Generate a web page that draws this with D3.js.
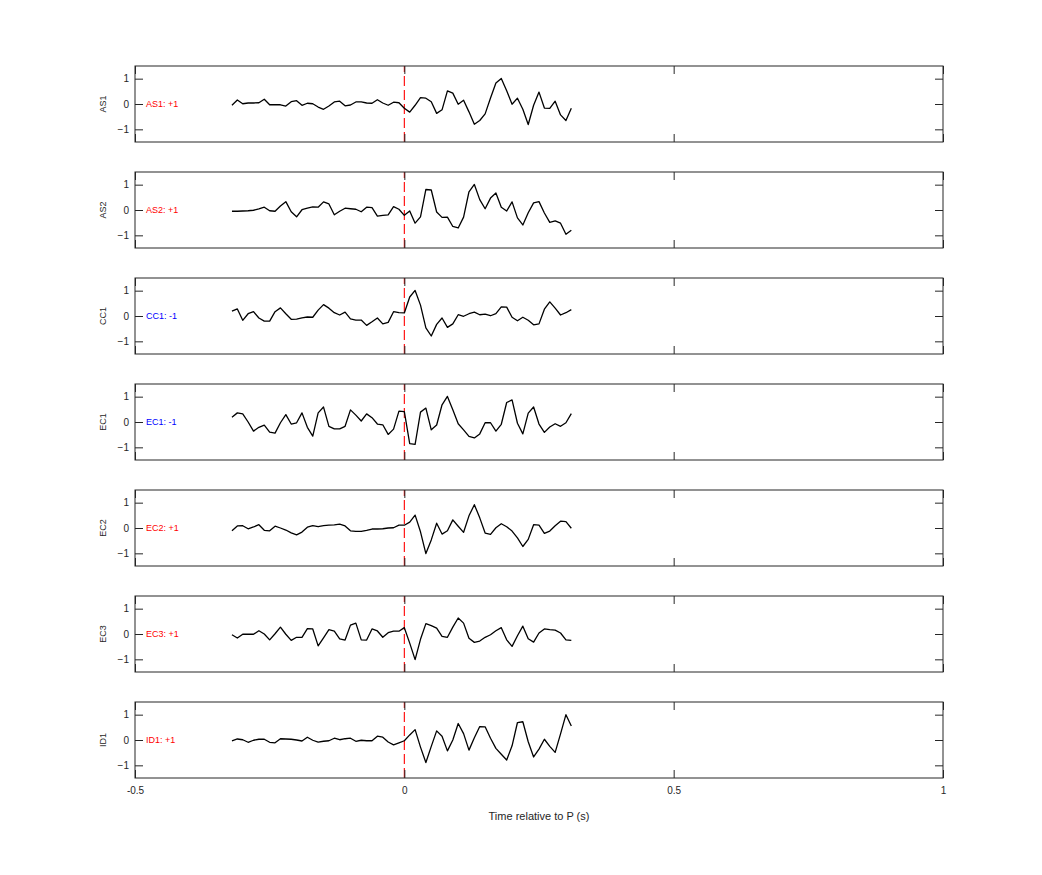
<!DOCTYPE html>
<html>
<head>
<meta charset="utf-8">
<script src="https://cdn.jsdelivr.net/npm/d3@7/dist/d3.min.js"></script>
<style>
  html, body { margin: 0; padding: 0; background: #fff; }
  svg { display: block; font-family: "Liberation Sans", Arial, Helvetica, sans-serif; }
</style>
</head>
<body>
<svg id="chart" width="1042" height="875"></svg>
<script>
// ---- Data ----
const stations = ["AS1", "AS2", "CC1", "EC1", "EC2", "EC3", "ID1"];
const polarities = ["+1", "+1", "-1", "-1", "+1", "+1", "+1"];
const xTicks = [-0.5, 0, 0.5, 1];
const xTickLabels = ["-0.5", "0", "0.5", "1"];
const yTicks = [-1, 0, 1];
const tStart = -0.32, tStep = 0.01;

const AS1 = [-0.05,0.16,0.01,0.04,0.04,0.05,0.19,-0.03,-0.03,-0.03,-0.08,0.09,0.13,-0.05,0.03,0.01,
  -0.12,-0.21,-0.08,0.08,0.11,-0.07,-0.04,0.08,0.08,0.04,0.03,0.17,0.04,-0.05,0.07,0.05,
  -0.17,-0.32,-0.05,0.25,0.23,0.09,-0.37,-0.23,0.52,0.43,-0.01,0.15,-0.31,-0.80,-0.65,-0.39,
  0.24,0.83,1.01,0.52,-0.01,0.23,-0.21,-0.81,-0.05,0.47,-0.16,-0.17,0.11,-0.43,-0.65,-0.17];
const AS2 = [-0.05,-0.05,-0.04,-0.03,-0.01,0.04,0.11,-0.03,-0.05,0.16,0.33,-0.07,-0.27,0.01,0.07,0.12,
  0.11,0.32,0.24,-0.19,-0.05,0.07,0.05,0.03,-0.07,0.11,0.09,-0.24,-0.21,-0.19,0.13,0.03,
  -0.21,-0.04,-0.52,-0.27,0.81,0.79,-0.08,-0.29,-0.28,-0.65,-0.71,-0.28,0.72,1.01,0.41,0.05,
  0.47,0.67,0.11,-0.04,0.32,-0.31,-0.59,-0.11,0.28,0.33,-0.12,-0.49,-0.43,-0.52,-0.96,-0.80];
const CC1 = [0.19,0.28,-0.17,0.09,0.17,-0.08,-0.20,-0.20,0.17,0.32,0.09,-0.13,-0.12,-0.07,-0.04,-0.05,
  0.23,0.45,0.31,0.13,0.04,0.15,-0.11,-0.16,-0.16,-0.37,-0.23,-0.08,-0.31,-0.25,0.17,0.13,
  0.12,0.75,1.01,0.43,-0.47,-0.79,-0.33,-0.08,-0.45,-0.31,0.05,-0.01,0.09,0.15,0.05,0.07,
  0.01,0.09,0.36,0.35,-0.05,-0.19,-0.05,-0.17,-0.35,-0.31,0.27,0.56,0.31,0.04,0.13,0.25];
const EC1 = [0.19,0.36,0.32,0.00,-0.36,-0.21,-0.12,-0.40,-0.44,-0.03,0.29,-0.08,-0.03,0.36,-0.21,-0.56,
  0.36,0.59,-0.17,-0.27,-0.27,-0.17,0.48,0.27,0.04,0.32,0.17,-0.08,-0.11,-0.49,-0.28,0.43,
  0.41,-0.85,-0.88,0.39,0.55,-0.31,-0.12,0.68,1.01,0.48,-0.07,-0.31,-0.57,-0.63,-0.47,-0.03,
  -0.03,-0.36,-0.09,0.77,0.87,-0.05,-0.47,0.35,0.59,-0.08,-0.41,-0.20,-0.07,-0.17,-0.03,0.33];
const EC2 = [-0.11,0.08,0.09,-0.03,0.04,0.13,-0.09,-0.11,0.07,0.00,-0.08,-0.19,-0.27,-0.16,0.03,0.09,
  0.05,0.09,0.11,0.12,0.15,0.08,-0.11,-0.13,-0.13,-0.09,-0.04,-0.04,-0.03,0.00,0.01,0.11,
  0.11,0.23,0.51,-0.15,-1.01,-0.47,0.19,-0.24,-0.11,0.32,0.07,-0.17,0.48,0.92,0.40,-0.20,
  -0.25,0.01,0.17,0.05,-0.12,-0.39,-0.73,-0.45,0.13,0.11,-0.21,-0.12,0.09,0.27,0.25,-0.01];
const EC3 = [-0.03,-0.16,-0.01,-0.01,-0.01,0.13,0.00,-0.23,0.01,0.27,-0.01,-0.25,-0.13,-0.13,0.21,0.20,
  -0.47,-0.15,0.17,0.11,-0.19,-0.24,0.35,0.43,-0.23,-0.24,0.20,0.12,-0.13,0.05,0.11,0.11,
  0.25,-0.36,-1.01,-0.21,0.41,0.33,0.23,-0.09,-0.13,0.27,0.63,0.43,-0.17,-0.33,-0.28,-0.13,
  -0.03,0.13,0.25,-0.23,-0.49,-0.07,0.31,-0.19,-0.32,0.04,0.20,0.17,0.15,0.04,-0.23,-0.25];
const ID1 = [-0.03,0.04,0.01,-0.09,-0.01,0.03,0.03,-0.09,-0.11,0.05,0.04,0.03,0.00,-0.04,0.11,-0.01,
  -0.08,-0.05,-0.03,0.07,0.01,0.05,0.07,-0.05,-0.01,-0.03,-0.03,0.15,0.11,-0.08,-0.19,-0.11,
  -0.03,0.20,0.41,-0.28,-0.89,-0.25,0.36,0.15,-0.43,0.00,0.65,0.25,-0.40,0.09,0.53,0.52,
  0.07,-0.33,-0.56,-0.79,-0.23,0.69,0.72,-0.07,-0.67,-0.36,0.03,-0.25,-0.49,0.24,1.00,0.55];
const traces = [AS1, AS2, CC1, EC1, EC2, EC3, ID1];

// ---- Layout ----
const svg = d3.select("#chart");
const left = 135, right = 943;
const panelTop0 = 66, panelH = 76, panelStep = 106;
const axisColor = "#262626";
const tickLen = 8;

const x = d3.scaleLinear().domain([-0.5, 1]).range([left, right]);

stations.forEach((name, i) => {
  const top = panelTop0 + i * panelStep;
  const y = d3.scaleLinear().domain([-1.5, 1.5]).range([top + panelH, top]);
  const g = svg.append("g");
  const vals = traces[i];
  const pts = vals.map((v, k) => ({ t: tStart + k * tStep, v }));

  // red dashed P line
  g.append("line")
    .attr("x1", x(0)).attr("x2", x(0))
    .attr("y1", y(-1.5)).attr("y2", y(1.5))
    .attr("stroke", "#ff0000").attr("stroke-width", 1.1)
    .attr("stroke-dasharray", "10,4");

  // waveform
  g.append("path")
    .datum(pts)
    .attr("fill", "none")
    .attr("stroke", "#000")
    .attr("stroke-width", 1.3)
    .attr("stroke-linejoin", "round")
    .attr("d", d3.line().x(d => x(d.t)).y(d => y(d.v)));

  // axes
  const ax = (gen, tx, ty) => {
    const a = g.append("g").attr("transform", `translate(${tx},${ty})`).call(gen);
    a.select(".domain").remove();
    a.selectAll(".tick line").attr("stroke", axisColor);
    a.selectAll(".tick text").attr("fill", axisColor);
    return a;
  };
  const yl = ax(d3.axisLeft(y).tickValues(yTicks).tickFormat(d3.format("d")).tickSize(-tickLen).tickPadding(6), left, 0);
  yl.selectAll("text").attr("font-size", 10).attr("font-family", "Liberation Sans, Arial, sans-serif");
  ax(d3.axisRight(y).tickValues(yTicks).tickFormat("").tickSize(-tickLen), right, 0);
  ax(d3.axisTop(x).tickValues(xTicks).tickFormat("").tickSize(-tickLen), 0, top);
  const xb = ax(d3.axisBottom(x).tickValues(xTicks)
      .tickFormat((d, k) => i === stations.length - 1 ? xTickLabels[k] : "")
      .tickSize(-tickLen).tickPadding(9), 0, top + panelH);
  xb.selectAll("text").attr("font-size", 10).attr("font-family", "Liberation Sans, Arial, sans-serif");

  // border
  g.append("rect")
    .attr("x", left).attr("y", top)
    .attr("width", right - left).attr("height", panelH)
    .attr("fill", "none").attr("stroke", axisColor).attr("stroke-width", 1);

  // y label
  g.append("text")
    .attr("transform", `translate(${106},${y(0)}) rotate(-90)`)
    .attr("text-anchor", "middle")
    .attr("font-size", 9)
    .attr("fill", axisColor)
    .text(name);

  // station polarity label
  g.append("text")
    .attr("x", 146).attr("y", y(0))
    .attr("dy", "0.35em")
    .attr("font-size", 9)
    .attr("fill", polarities[i].startsWith("-") ? "#0000ff" : "#ff0000")
    .text(`${name}: ${polarities[i]}`);
});

// x label
svg.append("text")
  .attr("x", (left + right) / 2)
  .attr("y", 820)
  .attr("text-anchor", "middle")
  .attr("font-size", 11)
  .attr("fill", axisColor)
  .text("Time relative to P (s)");
</script>
</body>
</html>
